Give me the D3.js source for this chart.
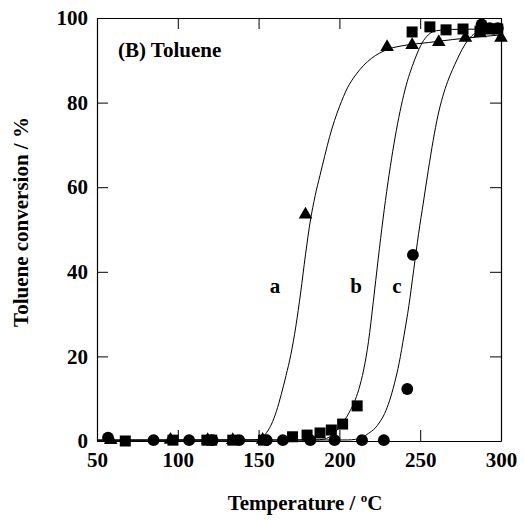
<!DOCTYPE html>
<html>
<head>
<meta charset="utf-8">
<script src="https://cdn.jsdelivr.net/npm/d3@7/dist/d3.min.js"></script>
<style>
  html, body { margin: 0; padding: 0; background: #fff; }
  svg { display: block; }
  text { font-family: "Liberation Serif", "Times New Roman", serif; font-weight: bold; fill: #000; }
</style>
</head>
<body>
<svg id="chart" width="524" height="520"></svg>
<script>
// Toluene conversion vs. temperature for three catalysts (a, b, c)

const xTicks = [50, 100, 150, 200, 250, 300];
const yTicks = [0, 20, 40, 60, 80, 100];

// Measured points: [temperature °C, conversion %]
const seriesA = [[58.5,0.2],[95.5,0.3],[118.5,0.2],[134,0.2],[152.5,0.3],[179,53.5],
                 [229.5,93.1],[245,93.6],[261.5,94.3],[278,95.3],[287,96.4],[300,95.3]];
const seriesB = [[67.5,0],[97,0.2],[118,0.2],[121,0.2],[134,0.2],[153,0.2],[171,1],
                 [180,1.4],[188,1.9],[195,2.6],[202,4],[211,8.3],[245,96.7],[256,97.9],
                 [266,97.2],[276.5,97.4],[287,96.9],[293,97.4],[298,97.4]];
const seriesC = [[56.8,0.8],[85,0.2],[107,0.2],[121.5,0.2],[138,0.2],[155,0.2],[165,0.2],
                 [182,0.2],[197,0.2],[214,0.2],[227.5,0.2],[242,12.3],[245.5,44],
                 [288,98.5],[293,97.6],[298,97.6]];

// Fitted light-off curves
const fitA = [[50,0.2],[145,0.25],[150,0.4],[152,0.8],[155,2],[158,4],[161,7],[164,11],
              [167,15.5],[170,20.5],[173,27],[176,35],[179,44],[182,52],[185,58],[188,62.8],
              [191,67.5],[194,72],[197,75.8],[200,79],[205,83.5],[210,86.5],[215,88.8],
              [220,90.5],[230,92.6],[240,93.5],[255,94.2],[270,94.9],[285,95.5],[300,96]];
const fitB = [[50,0.2],[185,0.25],[190,0.4],[194,1],[197,2],[200,3.2],[203,4.8],[206,6.7],
              [209,9],[212,12.2],[215,16.8],[218,23.5],[221,33],[224,43],[227,52.5],
              [230,61],[233,68.5],[236,75],[239,80.5],[242,85],[245,88.5],[248,91.5],
              [251,94],[255,96],[260,97],[270,97.3],[300,97.4]];
const fitC = [[50,0.2],[205,0.25],[210,0.4],[214,0.8],[218,1.8],[222,3],[225,4.5],[228,6.5],
              [231,9.5],[234,13.5],[237,18.5],[240,25],[243,32],[246,40.5],[249,49],
              [252,56.5],[255,64],[258,71],[261,77],[264,81.5],[267,85],[270,87.8],
              [273,90.3],[276,92.6],[279,94.5],[282,95.8],[286,96.8],[292,97.3],[300,97.5]];

const svg = d3.select("#chart");
const plotLeft = 97, plotRight = 501, plotTop = 18, plotBottom = 441;

const x = d3.scaleLinear().domain([50, 300]).range([plotLeft, plotRight]);
const y = d3.scaleLinear().domain([0, 100]).range([plotBottom, plotTop]);

const FS = 21;

// Axes with inward ticks on all four sides
const gB = svg.append("g").attr("transform", `translate(0,${plotBottom})`)
  .call(d3.axisBottom(x).tickValues(xTicks).tickSizeInner(-11).tickSizeOuter(0).tickPadding(11));
const gL = svg.append("g").attr("transform", `translate(${plotLeft},0)`)
  .call(d3.axisLeft(y).tickValues(yTicks).tickSizeInner(-11).tickSizeOuter(0).tickPadding(9));
const gT = svg.append("g").attr("transform", `translate(0,${plotTop})`)
  .call(d3.axisTop(x).tickValues(xTicks).tickSizeInner(-11).tickSizeOuter(0).tickFormat(""));
const gR = svg.append("g").attr("transform", `translate(${plotRight},0)`)
  .call(d3.axisRight(y).tickValues(yTicks).tickSizeInner(-11).tickSizeOuter(0).tickFormat(""));

[gB, gL, gT, gR].forEach(g => {
  g.selectAll("path.domain").attr("stroke", "#000").attr("stroke-width", 1.2);
  g.selectAll(".tick line").attr("stroke", "#000").attr("stroke-width", 1);
  g.selectAll(".tick text")
    .style("font-family", '"Liberation Serif", "Times New Roman", serif')
    .style("font-weight", "bold").style("font-size", FS + "px").attr("fill", "#000");
});

// Fitted curves
const line = d3.line().x(d => x(d[0])).y(d => y(d[1])).curve(d3.curveMonotoneX);
[fitA, fitB, fitC].forEach(f => {
  svg.append("path").datum(f).attr("d", line)
    .attr("fill", "none").attr("stroke", "#000").attr("stroke-width", 1);
});

// Markers
const markers = [
  { data: seriesB, type: d3.symbolSquare, size: 121 },
  { data: seriesA, type: d3.symbolTriangle, size: 80 },
  { data: seriesC, type: d3.symbolCircle, size: 110 }
];
markers.forEach(m => {
  svg.append("g").selectAll("path").data(m.data).join("path")
    .attr("transform", d => `translate(${x(d[0])},${y(d[1])})`)
    .attr("d", d3.symbol().type(m.type).size(m.size))
    .attr("fill", "#000");
});

// Panel label and curve labels
svg.append("text").attr("x", 118).attr("y", 57).style("font-size", FS + "px").text("(B) Toluene");
svg.append("text").attr("x", 275).attr("y", 293).attr("text-anchor", "middle").style("font-size", FS + "px").text("a");
svg.append("text").attr("x", 356).attr("y", 293).attr("text-anchor", "middle").style("font-size", FS + "px").text("b");
svg.append("text").attr("x", 397).attr("y", 293).attr("text-anchor", "middle").style("font-size", FS + "px").text("c");

// Axis titles
const xt = svg.append("text").attr("x", (plotLeft + plotRight) / 2 + 6).attr("y", 510)
  .attr("text-anchor", "middle").style("font-size", FS + "px");
xt.append("tspan").text("Temperature / ");
xt.append("tspan").attr("dy", -8).style("font-size", "13px").text("o");
xt.append("tspan").attr("dy", 8).text("C");

svg.append("text").attr("transform", `translate(28,222) rotate(-90)`)
  .attr("text-anchor", "middle").style("font-size", FS + "px").text("Toluene conversion / %");
</script>
</body>
</html>
